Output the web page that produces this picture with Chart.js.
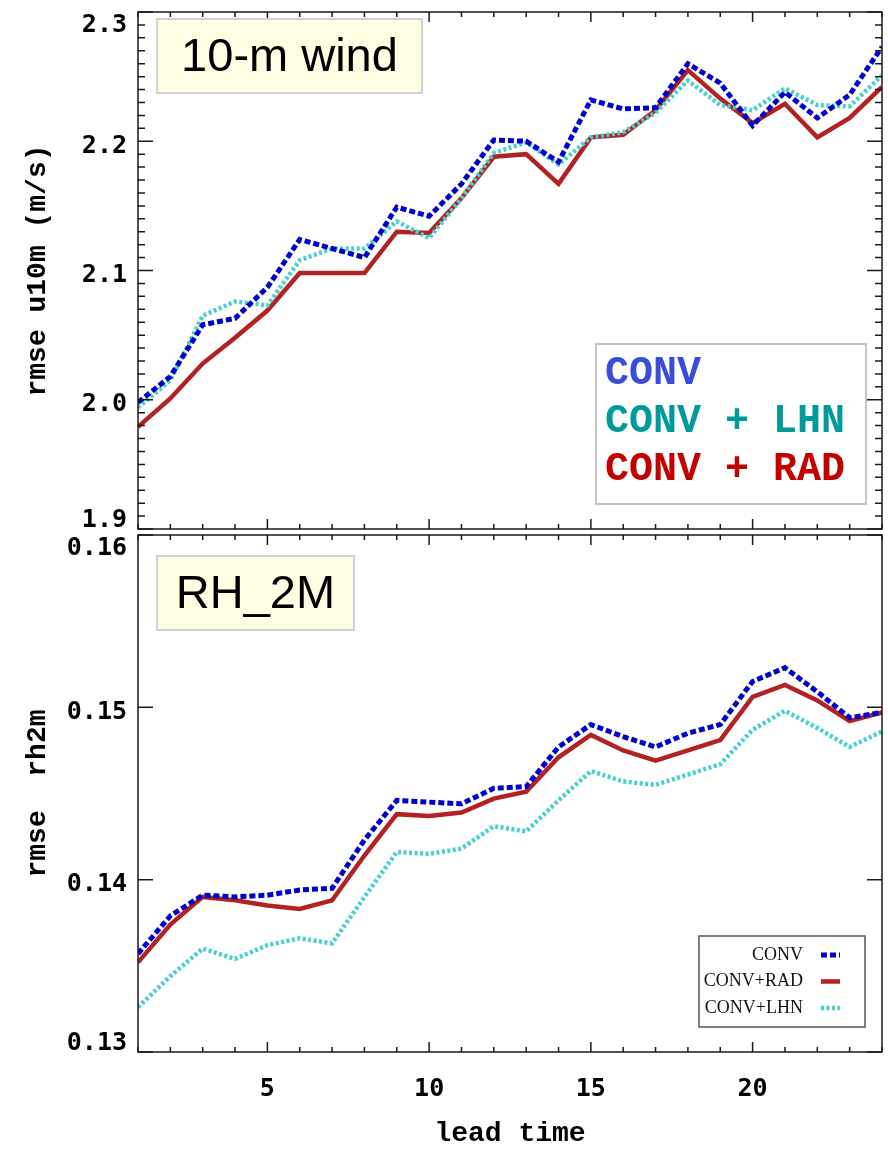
<!DOCTYPE html>
<html>
<head>
<meta charset="utf-8">
<script src="https://cdn.jsdelivr.net/npm/chart.js@4.4.1/dist/chart.umd.min.js"></script>
<style>
  body { margin: 0; background: #fff; width: 888px; height: 1151px; overflow: hidden; }
  canvas { position: absolute; left: 0; }
  #windChart { top: 0; }
  #rhChart { top: 532px; }
</style>
</head>
<body>
<canvas id="windChart" width="888" height="532"></canvas>
<canvas id="rhChart" width="888" height="619"></canvas>
<script>
// lead time 1..24 h
const leadTime = [1, 2, 3, 4, 5, 6, 7, 8, 9, 10, 11, 12, 13, 14, 15, 16, 17, 18, 19, 20, 21, 22, 23, 24];
const leadTicks = [5, 10, 15, 20];

// 10-m wind rmse
const windConv = [1.998, 2.018, 2.058, 2.063, 2.087, 2.124, 2.117, 2.110, 2.149, 2.142, 2.167, 2.201,
                  2.200, 2.184, 2.232, 2.225, 2.226, 2.260, 2.245, 2.212, 2.238, 2.218, 2.236, 2.273];
const windLhn  = [1.994, 2.015, 2.065, 2.076, 2.073, 2.108, 2.117, 2.117, 2.138, 2.125, 2.156, 2.191,
                  2.199, 2.182, 2.203, 2.207, 2.222, 2.247, 2.228, 2.224, 2.241, 2.228, 2.227, 2.251];
const windRad  = [1.979, 2.001, 2.028, 2.048, 2.069, 2.098, 2.098, 2.098, 2.130, 2.129, 2.156, 2.188,
                  2.190, 2.167, 2.203, 2.205, 2.224, 2.255, 2.233, 2.214, 2.229, 2.203, 2.218, 2.242];
const windTicks = [1.9, 2.0, 2.1, 2.2, 2.3];
const windLegend = ['CONV', 'CONV + LHN', 'CONV + RAD'];

// 2-m relative humidity rmse
const rhConv = [0.1357, 0.1379, 0.1391, 0.1390, 0.1391, 0.1394, 0.1395, 0.1423, 0.1446, 0.1445, 0.1444, 0.1453,
                0.1454, 0.1477, 0.1490, 0.1483, 0.1477, 0.1485, 0.1490, 0.1515, 0.1523, 0.1509, 0.1494, 0.1497];
const rhRad  = [0.1352, 0.1374, 0.1390, 0.1388, 0.1385, 0.1383, 0.1388, 0.1414, 0.1438, 0.1437, 0.1439, 0.1447,
                0.1451, 0.1471, 0.1484, 0.1475, 0.1469, 0.1475, 0.1481, 0.1506, 0.1513, 0.1504, 0.1492, 0.1497];
const rhLhn  = [0.1326, 0.1344, 0.1360, 0.1354, 0.1362, 0.1366, 0.1363, 0.1390, 0.1416, 0.1415, 0.1418, 0.1431,
                0.1428, 0.1446, 0.1463, 0.1457, 0.1455, 0.1461, 0.1467, 0.1487, 0.1498, 0.1488, 0.1477, 0.1486];
const rhTicks = [0.13, 0.14, 0.15, 0.16];
const rhLegend = ['CONV', 'CONV+RAD', 'CONV+LHN'];

const styles = {
  conv: { color: '#0000cd', dash: [6, 3], width: 5 },
  lhn:  { color: '#48d1cc', dash: [3, 2.5], width: 4.5 },
  rad:  { color: '#b22222', dash: [], width: 4.5 }
};

function series(label, values, st) {
  return {
    label: label,
    data: leadTime.map((t, i) => ({ x: t, y: values[i] })),
    borderColor: st.color,
    borderDash: st.dash,
    borderWidth: st.width,
    borderCapStyle: 'butt',
    pointRadius: 0,
    tension: 0,
    fill: false
  };
}

const tickFont = 'bold 25px "DejaVu Sans Mono"';
const titleFont = { family: 'Liberation Mono', size: 28, weight: 'bold' };

// frame, inward ticks, y labels, title box and legend
const panelDecor = {
  id: 'panelDecor',
  afterDatasetsDraw(chart, args, opts) {
    const { ctx, chartArea: a, scales: { x, y } } = chart;
    ctx.save();
    ctx.strokeStyle = '#1a1a1a';
    ctx.lineWidth = 1.5;
    ctx.setLineDash([]);
    ctx.strokeRect(a.left, a.top, a.right - a.left, a.bottom - a.top);

    ctx.beginPath();
    for (let t = x.min; t <= x.max; t++) {
      const px = x.getPixelForValue(t);
      const len = t % 5 === 0 ? 10 : 5;
      ctx.moveTo(px, a.top); ctx.lineTo(px, a.top + len);
      ctx.moveTo(px, a.bottom); ctx.lineTo(px, a.bottom - len);
    }
    const steps = Math.round((y.max - y.min) / opts.yMinor);
    for (let k = 0; k <= steps; k++) {
      const v = y.min + k * opts.yMinor;
      const r = v / opts.yMajor;
      const len = Math.abs(r - Math.round(r)) < 1e-6 ? 15 : 7;
      const py = y.getPixelForValue(v);
      ctx.moveTo(a.left, py); ctx.lineTo(a.left + len, py);
      ctx.moveTo(a.right, py); ctx.lineTo(a.right - len, py);
    }
    ctx.stroke();

    // y tick labels
    ctx.fillStyle = '#000';
    ctx.font = tickFont;
    ctx.textAlign = 'right';
    ctx.textBaseline = 'middle';
    opts.yTicks.forEach(v => {
      let py = y.getPixelForValue(v) + 5;
      py = Math.min(Math.max(py, a.top + 13), a.bottom - 9);
      ctx.fillText(v.toFixed(opts.digits), a.left - 11, py);
    });

    // panel name box
    const b = opts.nameBox;
    ctx.fillStyle = '#fffde2';
    ctx.fillRect(b.x, b.y, b.w, b.h);
    ctx.strokeStyle = '#d2d2d2';
    ctx.lineWidth = 2;
    ctx.strokeRect(b.x, b.y, b.w, b.h);
    ctx.fillStyle = '#000';
    ctx.font = '47px "Liberation Sans"';
    ctx.textAlign = 'center';
    ctx.textBaseline = 'middle';
    ctx.fillText(opts.name, b.x + b.w / 2, b.y + b.h / 2 + 2);

    const L = opts.legend;
    if (L.kind === 'colored') {
      ctx.fillStyle = '#fff';
      ctx.fillRect(L.x, L.y, L.w, L.h);
      ctx.strokeStyle = '#c4c4c4';
      ctx.lineWidth = 2;
      ctx.strokeRect(L.x, L.y, L.w, L.h);
      ctx.font = 'bold 40px "Liberation Mono"';
      ctx.textAlign = 'left';
      ctx.textBaseline = 'middle';
      L.labels.forEach((lab, i) => {
        ctx.fillStyle = L.colors[i];
        ctx.fillText(lab, L.x + 9, L.y + 30 + i * 48);
      });
    } else {
      ctx.fillStyle = '#fff';
      ctx.fillRect(L.x, L.y, L.w, L.h);
      ctx.strokeStyle = '#555';
      ctx.lineWidth = 1.5;
      ctx.strokeRect(L.x, L.y, L.w, L.h);
      ctx.font = '18px "Liberation Serif"';
      ctx.textAlign = 'right';
      ctx.textBaseline = 'middle';
      L.labels.forEach((lab, i) => {
        const ds = chart.data.datasets.find(d => d.label === lab);
        const ly = L.y + 19 + i * 26.5;
        ctx.fillStyle = '#111';
        ctx.fillText(lab, L.x + 104, ly);
        ctx.strokeStyle = ds.borderColor;
        ctx.lineWidth = ds.borderWidth;
        ctx.lineCap = 'butt';
        ctx.setLineDash(ds.borderDash);
        ctx.beginPath();
        ctx.moveTo(L.x + 122, ly);
        ctx.lineTo(L.x + 141, ly);
        ctx.stroke();
        ctx.setLineDash([]);
      });
    }
    ctx.restore();
  }
};

new Chart(document.getElementById('windChart'), {
  type: 'line',
  data: {
    datasets: [
      series('CONV', windConv, styles.conv),
      series('CONV + LHN', windLhn, styles.lhn),
      series('CONV + RAD', windRad, styles.rad)
    ]
  },
  plugins: [panelDecor],
  options: {
    responsive: false,
    animation: false,
    layout: { padding: { top: 12, right: 6, bottom: 3, left: 0 } },
    scales: {
      x: { type: 'linear', min: 1, max: 24, display: false },
      y: {
        type: 'linear', min: 1.9, max: 2.3,
        ticks: { display: false },
        grid: { display: false, drawTicks: false },
        border: { display: false },
        title: { display: true, text: 'rmse u10m (m/s)', color: '#000', font: titleFont, padding: { top: 21, bottom: 0 } },
        afterFit(s) { s.width = 138; }
      }
    },
    plugins: {
      legend: { display: false },
      tooltip: { enabled: false },
      panelDecor: {
        yMinor: 0.01, yMajor: 0.1, yTicks: windTicks, digits: 1,
        name: '10-m wind', nameBox: { x: 157, y: 19, w: 265, h: 74 },
        legend: { kind: 'colored', labels: windLegend, colors: ['#3a4dd8', '#009a9a', '#c20000'],
                  x: 596, y: 344, w: 270, h: 160 }
      }
    }
  }
});

new Chart(document.getElementById('rhChart'), {
  type: 'line',
  data: {
    datasets: [
      series('CONV', rhConv, styles.conv),
      series('CONV+LHN', rhLhn, styles.lhn),
      series('CONV+RAD', rhRad, styles.rad)
    ]
  },
  plugins: [panelDecor],
  options: {
    responsive: false,
    animation: false,
    layout: { padding: { top: 3, right: 6, bottom: 0, left: 0 } },
    scales: {
      x: {
        type: 'linear', min: 1, max: 24,
        afterBuildTicks(s) { s.ticks = leadTicks.map(v => ({ value: v })); },
        ticks: { color: '#000', font: { family: 'DejaVu Sans Mono', size: 25, weight: 'bold' }, padding: 22, maxRotation: 0, autoSkip: false },
        grid: { display: false, drawTicks: false },
        border: { display: false },
        title: { display: true, text: 'lead time', color: '#000', font: titleFont, padding: { top: 0, bottom: 0 } },
        afterFit(s) { s.height = 99; }
      },
      y: {
        type: 'linear', min: 0.13, max: 0.16,
        ticks: { display: false },
        grid: { display: false, drawTicks: false },
        border: { display: false },
        title: { display: true, text: 'rmse  rh2m', color: '#000', font: titleFont, padding: { top: 21, bottom: 0 } },
        afterFit(s) { s.width = 138; }
      }
    },
    plugins: {
      legend: { display: false },
      tooltip: { enabled: false },
      panelDecor: {
        yMinor: 0.01, yMajor: 0.01, yTicks: rhTicks, digits: 2,
        name: 'RH_2M', nameBox: { x: 157, y: 24, w: 197, h: 74 },
        legend: { kind: 'samples', labels: rhLegend, x: 699, y: 404, w: 166, h: 91 }
      }
    }
  }
});
</script>
</body>
</html>
